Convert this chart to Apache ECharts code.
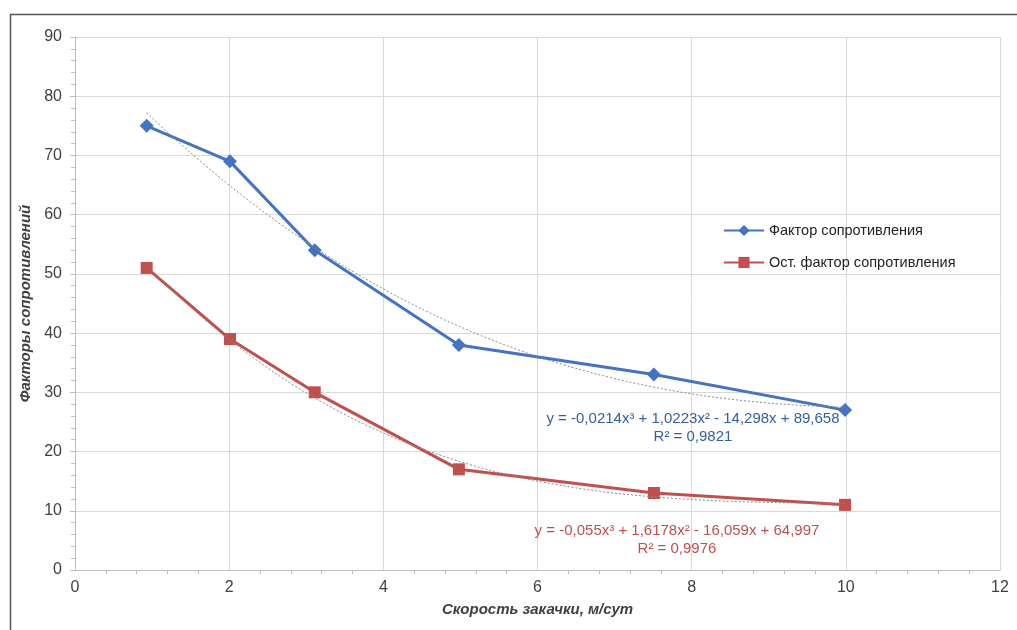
<!DOCTYPE html>
<html><head><meta charset="utf-8">
<script src="https://cdn.jsdelivr.net/npm/echarts@6/dist/echarts.min.js"></script>
<style>html,body{margin:0;padding:0;background:#fff}#c{width:1017px;height:630px}</style>
</head><body><div id="c"></div>
<script>
// Data
const xValues = [0.93, 2.01, 3.11, 4.98, 7.51, 9.99];
const resistFactor = [75, 69, 54, 38, 33, 27];
const residualFactor = [51, 39, 30, 17, 13, 11];
const seriesNames = ['Фактор сопротивления', 'Ост. фактор сопротивления'];
// Trendline coefficients as printed on the chart (a3, a2, a1, a0)
const trendBlueCoef = [-0.0214, 1.0223, -14.298, 89.658];
const trendRedCoef = [-0.055, 1.6178, -16.059, 64.997];
const trendBlueText = ['y = -0,0214x³ + 1,0223x² - 14,298x + 89,658', 'R² = 0,9821'];
const trendRedText = ['y = -0,055x³ + 1,6178x² - 16,059x + 64,997', 'R² = 0,9976'];
const xAxisName = 'Скорость закачки, м/сут';
const yAxisName = 'Факторы сопротивлений';

function poly(c, x) { return ((c[0] * x + c[1]) * x + c[2]) * x + c[3]; }
function trend(c) {
  const pts = [];
  const x0 = xValues[0], x1 = xValues[xValues.length - 1];
  const n = 80;
  for (let i = 0; i <= n; i++) { const x = x0 + (x1 - x0) * i / n; pts.push([x, poly(c, x)]); }
  return pts;
}
const blue = '#4472c4', red = '#c0504d';
const eqFont = '15px Liberation Sans, sans-serif';
const chart = echarts.init(document.getElementById('c'));
chart.setOption({
  animation: false,
  backgroundColor: '#fff',
  textStyle: { fontFamily: 'Liberation Sans, Arial, sans-serif' },
  grid: { left: 75, right: 17, top: 37, bottom: 60 },
  xAxis: {
    type: 'value', min: 0, max: 12, interval: 2,
    name: xAxisName, nameLocation: 'middle', nameGap: 32,
    nameTextStyle: { fontSize: 15, fontWeight: 'bold', fontStyle: 'italic', color: '#404040', fontFamily: 'Liberation Sans Narrow, Liberation Sans, sans-serif' },
    axisLine: { lineStyle: { color: '#bfbfbf' } },
    axisTick: { show: false },
    minorTick: { show: true, splitNumber: 5, length: 4, lineStyle: { color: '#bfbfbf' } },
    axisLabel: { fontSize: 16, color: '#404040', margin: 10, fontFamily: 'Liberation Sans Narrow, Liberation Sans, sans-serif' },
    splitLine: { show: true, lineStyle: { color: '#d9d9d9' } }
  },
  yAxis: {
    type: 'value', min: 0, max: 90, interval: 10,
    name: yAxisName, nameLocation: 'middle', nameGap: 40,
    nameTextStyle: { fontSize: 15, fontWeight: 'bold', fontStyle: 'italic', color: '#404040' },
    axisLine: { show: true, lineStyle: { color: '#bfbfbf' } },
    axisTick: { show: true, length: 5, lineStyle: { color: '#bfbfbf' } },
    minorTick: { show: true, splitNumber: 5, length: 4, lineStyle: { color: '#bfbfbf' } },
    axisLabel: { fontSize: 16, color: '#404040', margin: 13 },
    splitLine: { show: true, lineStyle: { color: '#d9d9d9' } }
  },
  legend: {
    orient: 'vertical', left: 718, top: 218, itemGap: 17, itemWidth: 40, itemHeight: 14,
    textStyle: { fontSize: 14.5, color: '#222' },
    data: [seriesNames[0], seriesNames[1]]
  },
  series: [
    { name: seriesNames[0], type: 'line', data: xValues.map((x, i) => [x, resistFactor[i]]),
      symbol: 'diamond', symbolSize: 14, itemStyle: { color: blue }, lineStyle: { color: blue, width: 3 }, z: 3 },
    { name: seriesNames[1], type: 'line', data: xValues.map((x, i) => [x, residualFactor[i]]),
      symbol: 'rect', symbolSize: 12, itemStyle: { color: red }, lineStyle: { color: red, width: 3 }, z: 3 },
    { name: 'trendBlue', type: 'line', data: trend(trendBlueCoef), showSymbol: false, symbol: 'none',
      lineStyle: { color: '#8a8a8a', width: 1, type: [2, 2] }, z: 4, silent: true },
    { name: 'trendRed', type: 'line', data: trend(trendRedCoef), showSymbol: false, symbol: 'none',
      lineStyle: { color: '#8a8a8a', width: 1, type: [2, 2] }, z: 4, silent: true }
  ],
  graphic: [
    { type: 'rect', left: 8, top: 12, shape: { width: 1100, height: 700 }, style: { fill: 'none', stroke: '#555', lineWidth: 1.5 }, silent: true, z: 10 },
    { type: 'text', x: 693, y: 419, style: { text: trendBlueText[0], fill: '#35609f', font: eqFont, textAlign: 'center', textVerticalAlign: 'middle' }, z: 10 },
    { type: 'text', x: 693, y: 437, style: { text: trendBlueText[1], fill: '#35609f', font: eqFont, textAlign: 'center', textVerticalAlign: 'middle' }, z: 10 },
    { type: 'text', x: 677, y: 531, style: { text: trendRedText[0], fill: '#c0504d', font: eqFont, textAlign: 'center', textVerticalAlign: 'middle' }, z: 10 },
    { type: 'text', x: 677, y: 549, style: { text: trendRedText[1], fill: '#c0504d', font: eqFont, textAlign: 'center', textVerticalAlign: 'middle' }, z: 10 }
  ]
});
</script></body></html>
